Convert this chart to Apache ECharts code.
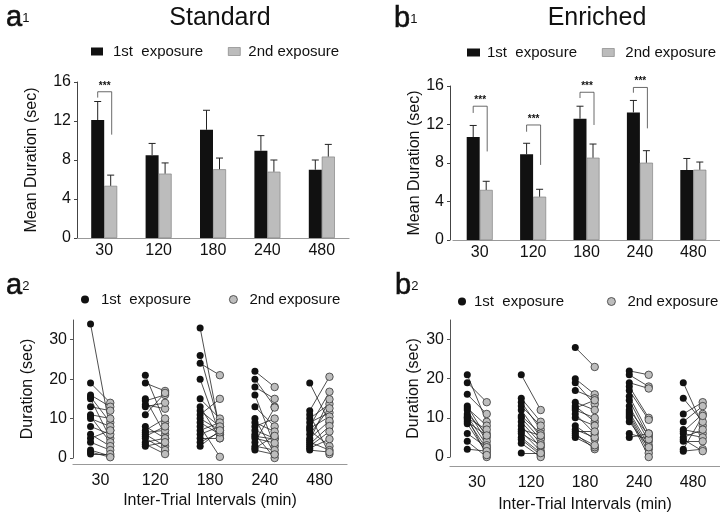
<!DOCTYPE html>
<html>
<head>
<meta charset="utf-8">
<script src="https://cdn.jsdelivr.net/npm/echarts@6/dist/echarts.min.js"></script>
<style>html,body{margin:0;padding:0;background:#fff}#chart{width:720px;height:514px}</style>
</head>
<body>
<div id="chart"></div>
<script>
// ---------- data ----------
const categories = ['30', '120', '180', '240', '480'];
const yTicksBar = [0, 4, 8, 12, 16];
const yTicksDot = [0, 10, 20, 30];
const name1 = '1st  exposure';
const name2 = '2nd exposure';

// Panel a1 (Standard) means and SEM
const stdMean1 = [12.1, 8.5, 11.1, 8.95, 7.0];
const stdErr1  = [1.9, 1.2, 2.0, 1.55, 1.0];
const stdMean2 = [5.35, 6.6, 7.05, 6.8, 8.35];
const stdErr2  = [1.1, 1.1, 1.15, 1.2, 1.25];
// Panel b1 (Enriched) means and SEM
const enrMean1 = [10.7, 8.9, 12.6, 13.25, 7.27];
const enrErr1  = [1.2, 1.15, 1.3, 1.25, 1.2];
const enrMean2 = [5.2, 4.5, 8.55, 8.03, 7.3];
const enrErr2  = [0.9, 0.77, 1.42, 1.25, 0.8];
// significance brackets: [category index, bracket top, left end, right end]
const stdBrackets = [[0, 15.0, 14.4, 10.6]];
const enrBrackets = [[0, 13.9, 13.2, 9.2], [1, 11.95, 11.25, 7.8], [2, 15.35, 14.75, 11.95], [3, 15.85, 15.3, 11.6]];

// Panel a2 (Standard) individual durations
const std30First   = [34, 19, 16, 15.5, 15, 13, 11, 10.5, 10, 8, 6, 5, 4, 2, 1, 1.5];
const std30Second  = [7, 14, 13, 9, 5, 12, 10, 4, 8, 6, 3, 7, 2, 0.5, 1, 0.2];
const std120First  = [21, 19, 15, 14.5, 13.5, 13, 11, 8, 7, 6.5, 6, 5.5, 5, 4, 3.5, 3];
const std120Second = [9, 17, 6, 16, 12.5, 14, 16.5, 5, 10, 7, 3, 8, 2, 5, 1, 4];
const std180First  = [33, 26, 24, 20, 15, 13, 12, 11, 10, 9, 8, 7, 6, 5, 4, 3];
const std180Second = [7, 8, 21, 6, 10, 5, 8, 15, 7, 6, 0.3, 9, 8, 5, 6.5, 7];
const std240First  = [22, 20, 18, 16, 13, 10, 9, 8, 7, 6, 5.5, 5, 4, 3, 2.5, 2];
const std240Second = [18, 13, 15, 3, 8, 1, 6.7, 10, 5, 0, 4.8, 3.8, 12.8, 2, 5.6, 0.9];
const std480First  = [19, 12, 11, 10, 9, 8, 7.5, 7, 6, 5, 4.5, 4, 3.5, 3, 2.5, 2];
const std480Second = [9, 20.6, 1, 13.7, 11.5, 16.8, 10.5, 3, 12.6, 9.4, 14.9, 2, 8.1, 6.7, 4.8, 1.5];
// Panel b2 (Enriched) individual durations
const enr30First   = [21, 19, 16, 13, 12.5, 12, 11, 10.5, 10, 9.5, 9, 8.5, 6, 4, 2, 10];
const enr30Second  = [9, 14, 11, 5, 8, 4, 6, 3, 7, 2, 5.5, 1, 2.5, 0, 1.5, 0.5];
const enr120First  = [21, 15, 14, 13, 12, 10.5, 10, 9, 8, 7, 6.5, 6, 5, 4.5, 3.5, 1];
const enr120Second = [12, 9, 7, 8, 5, 6, 4.5, 3.5, 2.5, 5.5, 1.5, 3, 1, 0.5, 0, 1];
const enr180First  = [28, 20, 19, 17, 14, 13, 12.5, 12, 11, 10, 8, 7, 6.5, 6, 5, 5.5];
const enr180Second = [23, 16, 13.5, 15, 12, 9, 14.5, 10, 6, 8, 4.5, 5, 6.5, 2, 2.5, 3];
const enr240First  = [22, 21, 19, 18, 17, 15.5, 14.5, 13, 12, 11.5, 11, 10.5, 10, 6, 5, 9];
const enr240Second = [21, 18, 17.5, 10, 9.5, 6, 5, 4, 5.5, 3, 2, 1, 0, 4.5, 6, 2.5];
const enr480First  = [19, 15, 11, 9, 7, 6.5, 6, 5, 4, 2, 1.5, 4.5];
const enr480Second = [8, 9, 14, 13, 6, 11, 5, 7, 4, 10.5, 2, 1.5];

// ---------- styling constants ----------
const FONT = 'Liberation Sans, Arial, Helvetica, sans-serif';
const BW = 13;          // bar width (px)
const OFF = 0.18;       // horizontal offset of paired dots (category units)
const BLACK = '#111111';
const GRAY = '#bcbcbc';

const stdGroups = [[std30First, std30Second], [std120First, std120Second], [std180First, std180Second], [std240First, std240Second], [std480First, std480Second]];
const enrGroups = [[enr30First, enr30Second], [enr120First, enr120Second], [enr180First, enr180Second], [enr240First, enr240Second], [enr480First, enr480Second]];

function errRender(sign) {
  return function (params, api) {
    const i = api.value(0), m = api.value(1), e = api.value(2);
    const b = api.coord([i, m]);
    const t = api.coord([i, m + e]);
    const x = b[0] + sign * BW / 2;
    const st = { stroke: '#222', lineWidth: 1 };
    return { type: 'group', children: [
      { type: 'line', shape: { x1: x, y1: b[1], x2: x, y2: t[1] }, style: st },
      { type: 'line', shape: { x1: x - 3.5, y1: t[1], x2: x + 3.5, y2: t[1] }, style: st }
    ] };
  };
}
function bracketRender(params, api) {
  const i = api.value(0), top = api.value(1), lb = api.value(2), rb = api.value(3);
  const c = api.coord([i, top]);
  const yl = api.coord([i, lb])[1];
  const yr = api.coord([i, rb])[1];
  const xl = c[0] - BW / 2, xr = c[0] + BW / 2 + 1;
  const st = { stroke: '#444', lineWidth: 0.8 };
  return { type: 'group', children: [
    { type: 'line', shape: { x1: xl, y1: yl, x2: xl, y2: c[1] }, style: st },
    { type: 'line', shape: { x1: xl, y1: c[1], x2: xr, y2: c[1] }, style: st },
    { type: 'line', shape: { x1: xr, y1: c[1], x2: xr, y2: yr }, style: st },
    { type: 'text', style: { x: (xl + xr) / 2, y: c[1] - 1, text: '***', fill: '#111', font: 'bold 10px ' + FONT, textAlign: 'center', textVerticalAlign: 'bottom' } }
  ] };
}
function pairLines(groups) {
  const out = [];
  groups.forEach((g, gi) => g[0].forEach((v, k) => out.push({ coords: [[gi - OFF, v], [gi + OFF, g[1][k]]] })));
  return out;
}
function dots(groups, which, sign) {
  const out = [];
  groups.forEach((g, gi) => g[which].forEach(v => out.push([gi + sign * OFF, v])));
  return out;
}

const labelStyle = { fontSize: 16, color: '#111', fontFamily: FONT };
const nameStyle = { fontSize: 16, color: '#111', fontFamily: FONT };

function barX(gi) {
  return { type: 'category', gridIndex: gi, data: categories, boundaryGap: true,
    axisLine: { lineStyle: { color: '#999', width: 1.2 } }, axisTick: { show: false },
    axisLabel: Object.assign({ margin: 5 }, labelStyle) };
}
function barY(gi, offset, gap) {
  return { type: 'value', gridIndex: gi, min: 0, max: 16, interval: 4, offset: offset,
    name: 'Mean Duration (sec)', nameLocation: 'middle', nameGap: gap, nameTextStyle: nameStyle,
    axisLine: { show: true, lineStyle: { color: '#444' } }, axisTick: { show: true, length: 3, lineStyle: { color: '#444' } },
    splitLine: { show: false }, axisLabel: Object.assign({ margin: 6 }, labelStyle) };
}
function dotX(gi, offset, gap) {
  return { type: 'value', gridIndex: gi, min: -0.5, max: 4.5, offset: offset,
    name: 'Inter-Trial Intervals (min)', nameLocation: 'middle', nameGap: gap, nameTextStyle: nameStyle,
    axisLine: { onZero: false, lineStyle: { color: '#999', width: 1.2 } }, axisTick: { show: false }, splitLine: { show: false },
    axisLabel: Object.assign({ margin: 9, customValues: [0, 1, 2, 3, 4], formatter: v => categories[Math.round(v)] }, labelStyle) };
}
function dotY(gi, gap) {
  return { type: 'value', gridIndex: gi, min: 0, max: 35,
    name: 'Duration (sec)', nameLocation: 'middle', nameGap: gap, nameTextStyle: nameStyle,
    axisLine: { show: true, onZero: false, lineStyle: { color: '#555' } },
    axisTick: { show: true, length: 3, customValues: yTicksDot, lineStyle: { color: '#555' } },
    splitLine: { show: false },
    axisLabel: Object.assign({ margin: 6, customValues: yTicksDot }, labelStyle) };
}

function legendItem(left, top, name, icon, style, size, pad) {
  return { left: left, top: top, padding: 0, selectedMode: false, itemWidth: size[0], itemHeight: size[1],
    data: [{ name: name, icon: icon, itemStyle: style }],
    textStyle: { fontSize: 15, color: '#111', fontFamily: FONT, padding: [0, 0, 0, pad] } };
}
const sBlack = { color: BLACK, borderWidth: 0, opacity: 1 };
const sGrayBar = { color: GRAY, borderColor: '#777', borderWidth: 0.6, opacity: 1 };
const sGrayDot = { color: '#bdbdbd', borderColor: '#333', borderWidth: 0.8, opacity: 1 };

const panelLabel = (left, top, letter, sub) => ({
  left: left, top: top, text: '{a|' + letter + '}{s|' + sub + '}',
  textStyle: { rich: {
    a: { fontSize: 29, fontWeight: 'normal', fontFamily: FONT, color: '#111', lineHeight: 30, textBorderColor: '#111', textBorderWidth: 0.6 },
    s: { fontSize: 13, fontWeight: 'normal', fontFamily: FONT, color: '#111', lineHeight: 14 } } }
});

const option = {
  backgroundColor: '#fff',
  animation: false,
  textStyle: { fontFamily: FONT },
  title: [
    panelLabel(1, -2, 'a', '1'),
    panelLabel(389, -1, 'b', '1'),
    panelLabel(1, 266, 'a', '2'),
    panelLabel(390, 266, 'b', '2'),
    { left: 215, top: 1, textAlign: 'center', text: 'Standard', textStyle: { fontSize: 25, fontWeight: 'normal', color: '#111', fontFamily: FONT } },
    { left: 592, top: 1, textAlign: 'center', text: 'Enriched', textStyle: { fontSize: 25, fontWeight: 'normal', color: '#111', fontFamily: FONT } }
  ],
  legend: [
    legendItem(91, 44, name1, 'rect', sBlack, [12, 8], 5),
    legendItem(228, 44, name2, 'rect', sGrayBar, [12, 8], 3),
    legendItem(467, 45, name1, 'rect', sBlack, [13, 8], 2),
    legendItem(602, 45, name2, 'rect', sGrayBar, [12, 8], 6),
    legendItem(81, 292, name1, 'circle', sBlack, [8, 8], 7),
    legendItem(229, 292, name2, 'circle', sGrayDot, [8, 8], 7),
    legendItem(458, 294, name1, 'circle', sBlack, [8, 8], 3),
    legendItem(607, 294, name2, 'circle', sGrayDot, [8, 8], 7)
  ],
  grid: [
    { left: 77, top: 82, width: 272, height: 156 },
    { left: 453, top: 86, width: 274, height: 154 },
    { left: 73, top: 320, width: 274, height: 138 },
    { left: 450, top: 320, width: 275, height: 137 }
  ],
  xAxis: [barX(0), barX(1), dotX(2, 6, 29), dotX(3, 9, 31)],
  yAxis: [barY(0, 0, 37), barY(1, 3, 21), dotY(2, 37), dotY(3, 28)],
  series: [
    { type: 'bar', name: name1, xAxisIndex: 0, yAxisIndex: 0, data: stdMean1, barWidth: BW, barGap: '0%', itemStyle: sBlack },
    { type: 'bar', name: name2, xAxisIndex: 0, yAxisIndex: 0, data: stdMean2, barWidth: BW, barGap: '0%', itemStyle: sGrayBar },
    { type: 'custom', xAxisIndex: 0, yAxisIndex: 0, renderItem: errRender(-1), data: stdMean1.map((m, i) => [i, m, stdErr1[i]]), z: 5, silent: true },
    { type: 'custom', xAxisIndex: 0, yAxisIndex: 0, renderItem: errRender(1), data: stdMean2.map((m, i) => [i, m, stdErr2[i]]), z: 5, silent: true },
    { type: 'custom', xAxisIndex: 0, yAxisIndex: 0, renderItem: bracketRender, data: stdBrackets, z: 5, silent: true },

    { type: 'bar', name: name1, xAxisIndex: 1, yAxisIndex: 1, data: enrMean1, barWidth: BW, barGap: '0%', itemStyle: sBlack },
    { type: 'bar', name: name2, xAxisIndex: 1, yAxisIndex: 1, data: enrMean2, barWidth: BW, barGap: '0%', itemStyle: sGrayBar },
    { type: 'custom', xAxisIndex: 1, yAxisIndex: 1, renderItem: errRender(-1), data: enrMean1.map((m, i) => [i, m, enrErr1[i]]), z: 5, silent: true },
    { type: 'custom', xAxisIndex: 1, yAxisIndex: 1, renderItem: errRender(1), data: enrMean2.map((m, i) => [i, m, enrErr2[i]]), z: 5, silent: true },
    { type: 'custom', xAxisIndex: 1, yAxisIndex: 1, renderItem: bracketRender, data: enrBrackets, z: 5, silent: true },

    { type: 'lines', coordinateSystem: 'cartesian2d', xAxisIndex: 2, yAxisIndex: 2, data: pairLines(stdGroups), lineStyle: { color: '#222', width: 0.8, opacity: 1 }, silent: true, z: 2 },
    { type: 'scatter', name: name1, xAxisIndex: 2, yAxisIndex: 2, data: dots(stdGroups, 0, -1), symbolSize: 7, itemStyle: sBlack, z: 3 },
    { type: 'scatter', name: name2, xAxisIndex: 2, yAxisIndex: 2, data: dots(stdGroups, 1, 1), symbolSize: 7.5, itemStyle: sGrayDot, z: 3 },

    { type: 'lines', coordinateSystem: 'cartesian2d', xAxisIndex: 3, yAxisIndex: 3, data: pairLines(enrGroups), lineStyle: { color: '#222', width: 0.8, opacity: 1 }, silent: true, z: 2 },
    { type: 'scatter', name: name1, xAxisIndex: 3, yAxisIndex: 3, data: dots(enrGroups, 0, -1), symbolSize: 7, itemStyle: sBlack, z: 3 },
    { type: 'scatter', name: name2, xAxisIndex: 3, yAxisIndex: 3, data: dots(enrGroups, 1, 1), symbolSize: 7.5, itemStyle: sGrayDot, z: 3 }
  ]
};

const chart = echarts.init(document.getElementById('chart'), null, { renderer: 'canvas' });
chart.setOption(option);
</script>
</body>
</html>
